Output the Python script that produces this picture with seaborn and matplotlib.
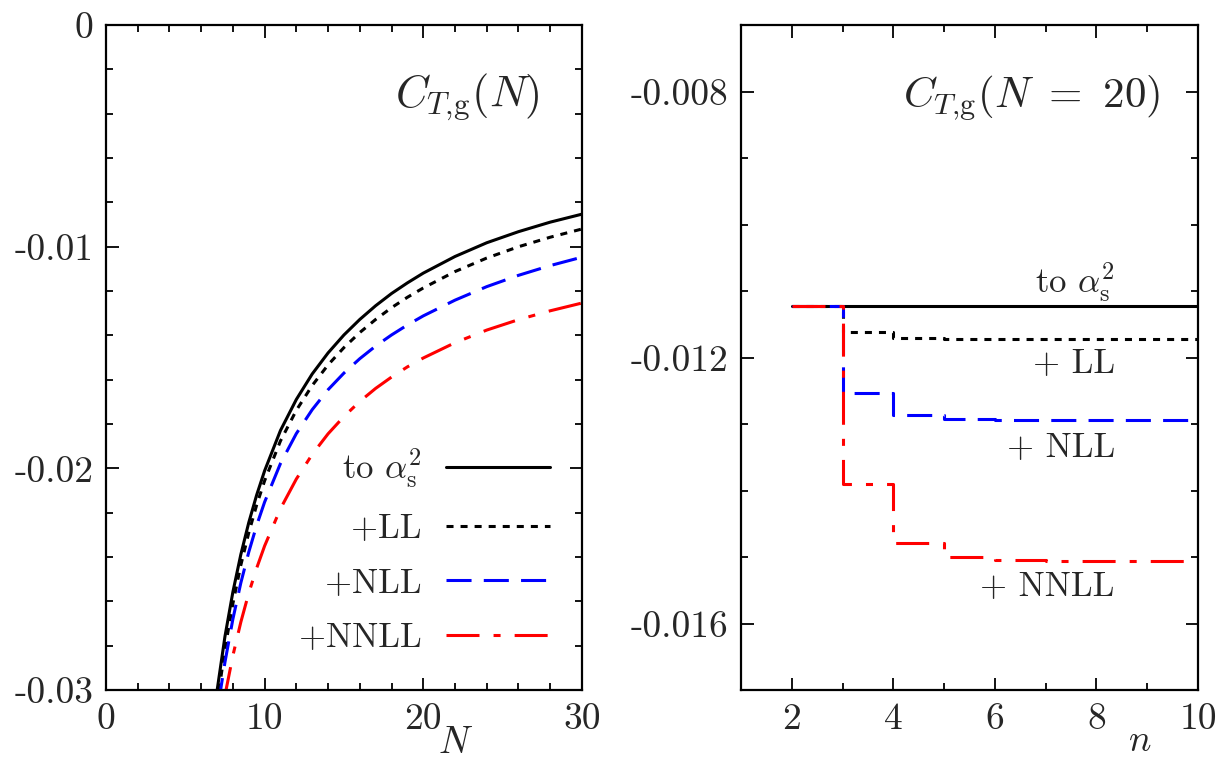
import matplotlib
matplotlib.use("Agg")
import matplotlib.pyplot as plt
from matplotlib.ticker import MultipleLocator
import seaborn as sns

# left panel: C_T,g(N) against N, one list per curve
N_a2 = [6.9, 7.5, 8, 8.5, 9, 9.5, 10, 11, 12, 13, 14, 15, 16, 17, 18, 19, 20, 22, 24, 26, 28, 30]
C_a2 = [-0.03054, -0.02759, -0.02558, -0.02389, -0.02245, -0.02120, -0.02011, -0.01829,
        -0.01689, -0.01574, -0.01479, -0.01398, -0.01328, -0.01266, -0.01211, -0.01163,
        -0.01119, -0.01044, -0.00982, -0.00932, -0.00889, -0.00853]
N_ll = [7.0, 7.5, 8, 8.5, 9, 9.5, 10, 11, 12, 13, 14, 15, 16, 17, 18, 19, 20, 22, 24, 26, 28, 30]
C_ll = [-0.03065, -0.02815, -0.0261, -0.02437, -0.02291, -0.02165, -0.02056, -0.01876,
        -0.01738, -0.01626, -0.01533, -0.01455, -0.01387, -0.01328, -0.01275, -0.01228,
        -0.01186, -0.01112, -0.01051, -0.0100, -0.00957, -0.0092]
N_nll = [7.1, 7.5, 8, 8.5, 9, 9.5, 10, 11, 12, 13, 14, 15, 16, 17, 18, 19, 20, 22, 24, 26, 28, 30]
C_nll = [-0.03058, -0.02875, -0.0268, -0.02517, -0.02378, -0.02257, -0.02152, -0.01978,
         -0.01843, -0.01735, -0.01645, -0.0157, -0.01505, -0.01448, -0.01398, -0.01353,
         -0.01312, -0.01241, -0.0118, -0.01129, -0.01085, -0.01047]
N_nnll = [7.45, 8, 8.5, 9, 9.5, 10, 11, 12, 13, 14, 15, 16, 17, 18, 19, 20, 22, 24, 26, 28, 30]
C_nnll = [-0.03043, -0.02845, -0.02694, -0.02563, -0.0245, -0.0235, -0.02182, -0.02048,
          -0.01937, -0.01844, -0.01766, -0.01698, -0.01639, -0.01588, -0.01542, -0.01502,
          -0.01433, -0.01376, -0.01329, -0.01289, -0.01254]

# right panel: C_T,g(N=20) against truncation order n
n_vals = [2, 3, 4, 5, 6, 7, 8, 9, 10]
c20_a2 = [-0.01122, -0.01122, -0.01122, -0.01122, -0.01122, -0.01122, -0.01122, -0.01122, -0.01122]
c20_ll = [-0.01122, -0.01162, -0.01171, -0.01172, -0.01172, -0.01172, -0.01172, -0.01172, -0.01172]
c20_nll = [-0.01122, -0.01254, -0.01287, -0.01293, -0.01294, -0.01294, -0.01294, -0.01294, -0.01294]
c20_nnll = [-0.01122, -0.01390, -0.01479, -0.01500, -0.01505, -0.01506, -0.01506, -0.01506, -0.01506]

labels = [r"to $\alpha_\mathrm{s}^2$", "+LL", "+NLL", "+NNLL"]
colors = ["black", "black", "blue", "red"]
styles = ["-", (0, (2.3, 2.3)), (0, (8.2, 4)), (0, (10.8, 4.6, 2.3, 4.6))]

sns.set_theme(style="ticks")
plt.rcParams["font.family"] = ["cmr10", "DejaVu Serif"]
plt.rcParams["mathtext.fontset"] = "cm"
plt.rcParams["axes.unicode_minus"] = False
plt.rcParams["axes.formatter.use_mathtext"] = True

LW = 2.2
fig = plt.figure(figsize=(12.22, 7.59), dpi=100)
ax1 = fig.add_axes([0.0867, 0.0909, 0.3895, 0.876])
ax2 = fig.add_axes([0.6064, 0.0909, 0.374, 0.876])

left_series = [(N_a2, C_a2), (N_ll, C_ll), (N_nll, C_nll), (N_nnll, C_nnll)]
for (x, y), lab, col, ls in zip(left_series, labels, colors, styles):
    sns.lineplot(x=x, y=y, ax=ax1, color=col, lw=LW, linestyle=ls, label=lab,
                 errorbar=None, sort=False)

right_series = [c20_a2, c20_ll, c20_nll, c20_nnll]
for y, col, ls in zip(right_series, colors, styles):
    sns.lineplot(x=n_vals, y=y, ax=ax2, color=col, lw=LW, linestyle=ls,
                 drawstyle="steps-post", errorbar=None, sort=False)

# axes ranges and ticks
ax1.set_xlim(0, 30)
ax1.set_ylim(-0.03, 0)
ax1.set_xticks([0, 10, 20, 30], labels=["0", "10", "20", "30"])
ax1.set_yticks([0, -0.01, -0.02, -0.03], labels=["0", "-0.01", "-0.02", "-0.03"])
ax1.xaxis.set_minor_locator(MultipleLocator(2))
ax1.yaxis.set_minor_locator(MultipleLocator(0.002))

ax2.set_xlim(1, 10)
ax2.set_ylim(-0.017, -0.007)
ax2.set_xticks([2, 4, 6, 8, 10], labels=["2", "4", "6", "8", "10"])
ax2.set_yticks([-0.008, -0.012, -0.016], labels=["-0.008", "-0.012", "-0.016"])
ax2.xaxis.set_minor_locator(MultipleLocator(1))
ax2.yaxis.set_minor_locator(MultipleLocator(0.001))

for ax in (ax1, ax2):
    ax.set_xlabel("")
    ax.set_ylabel("")
    for sp in ax.spines.values():
        sp.set_linewidth(1.6)
        sp.set_color("black")
    ax.tick_params(which="both", direction="in", top=True, right=True,
                   color="black", width=1.3, labelsize=27, pad=9)
    ax.tick_params(which="major", length=9)
    ax.tick_params(which="minor", length=5)

# axis names
ax1.text(0.735, -0.08, "$N$", transform=ax1.transAxes, ha="center", va="center", fontsize=27)
ax2.text(0.873, -0.078, "$n$", transform=ax2.transAxes, ha="center", va="center", fontsize=27)

# panel titles
ax1.text(0.912, 0.893, r"$C_{T{,}\mathrm{g}}(N)$", transform=ax1.transAxes,
         ha="right", va="center", fontsize=32)
ax2.text(0.917, 0.889, r"$C_{T{,}\mathrm{g}}(N\ =\ 20)$", transform=ax2.transAxes,
         ha="right", va="center", fontsize=31)

# legend on the left panel: text first, sample after it
handles, labs = ax1.get_legend_handles_labels()
ax1.legend(handles, labs, loc="lower right", bbox_to_anchor=(0.933, 0.054),
           markerfirst=False, frameon=False, fontsize=25, handlelength=3.0,
           handletextpad=0.7, labelspacing=0.66, borderaxespad=0, borderpad=0)

# labels next to the right-panel steps
for txt, yv in zip([r"to $\alpha_\mathrm{s}^2$", "+ LL", "+ NLL", "+ NNLL"],
                   [-0.010864, -0.0121, -0.01336, -0.01546]):
    ax2.text(8.36, yv, txt, ha="right", va="center", fontsize=25)

fig.savefig("out.png", dpi=100)
